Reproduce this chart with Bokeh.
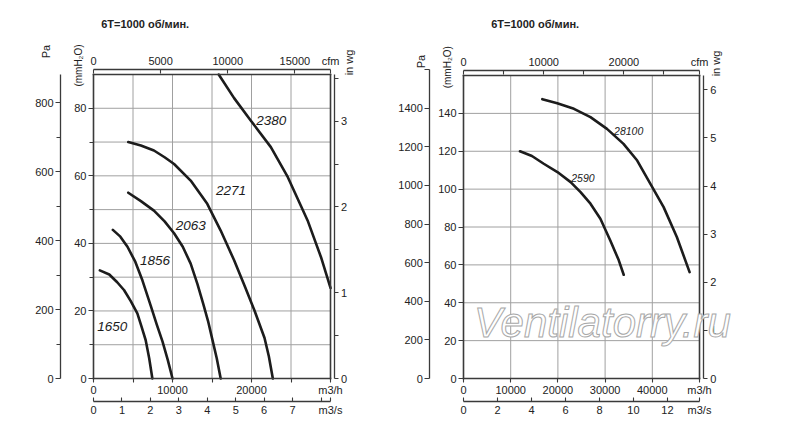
from bokeh.plotting import figure
from bokeh.models import LinearAxis, Range1d, FixedTicker, Grid, Label
from bokeh.layouts import row
from bokeh.embed import file_html
from bokeh.resources import INLINE
from bokeh.core.properties import value
import math

FONT = "Liberation Sans"
AX = "#3a3a3a"
GRID = "#a0a0a0"
CURVE = "#1c1c1c"
HEIGHT = 437
OFF = 0  # vertical page offset of the canvas

M3H_PER_CFM = 1.69901
M3H_PER_M3S = 3600.0
MM_PER_INWG = 25.4
PA_PER_MM = 9.80665

TITLE = "6T=1000 об/мин."

# ---------------- left chart data (x: m3/h, y: mmH2O) ----------------
L_XMAX = 30000
L_YMAX = 90
q1650 = [800, 2000, 3000, 3860, 4700, 5550, 6100, 6600, 7050, 7450]
p1650 = [32, 30.8, 28.5, 26.2, 23, 19.3, 15.2, 11.4, 6, 0]
q1856 = [2450, 3400, 4300, 5300, 6200, 7250, 8000, 8730, 9400, 10000]
p1856 = [44, 42, 39, 34.5, 29, 21.5, 16, 11, 5.5, 0]
q2063 = [4400, 6000, 7650, 9000, 10200, 11300, 12300, 13150, 13900, 14500, 15100, 15600, 16100]
p2063 = [55, 52.5, 49.7, 46.5, 43, 39, 34, 28, 22, 17, 11, 6, 0]
q2271 = [4400, 6000, 7650, 9000, 10200, 12300, 14400, 16100, 17800, 19200, 20400, 21650, 22200, 22700]
p2271 = [70, 69, 67.5, 65.5, 63.5, 58.6, 51.7, 43.8, 35, 27, 20, 12, 6.5, 0]
q2380 = [15850, 17800, 19900, 22450, 24600, 27100, 28800, 30000]
p2380 = [90, 83, 76.4, 68.5, 59.6, 46.8, 35.9, 26.8]
left_curves = [(q1650, p1650), (q1856, p1856), (q2063, p2063), (q2271, p2271), (q2380, p2380)]
left_names = ["1650", "1856", "2063", "2271", "2380"]
left_name_x = [2370, 7780, 12300, 17400, 22500]
left_name_y = [15.3, 35, 45.3, 55.7, 76.3]

# ---------------- right chart data ----------------
R_XMAX = 50000
R_YMAX = 160
q2590 = [11970, 14500, 17000, 19900, 22700, 24800, 26900, 29000, 31100, 32900, 33940]
p2590 = [120, 117.5, 113.4, 109, 103.7, 98.4, 92.3, 84.4, 72.9, 62.4, 54.8]
q28100 = [16700, 19860, 23400, 26900, 30400, 33900, 36800, 39600, 42400, 45200, 47900]
p28100 = [147.5, 145.3, 142.4, 138, 131.8, 123.9, 115.1, 102.8, 90.5, 74.7, 56.2]
right_curves = [(q2590, p2590), (q28100, p28100)]
right_names = ["2590", "28100"]
right_name_x = [25300, 35000]
right_name_y = [106, 130.9]

# tick sets
L_M3H_TICKS = [0, 5000, 10000, 15000, 20000, 25000, 30000]
L_M3H_LABELS = {5000: "", 15000: "", 25000: "", 30000: "m3/h"}
L_M3S_TICKS = [0, 1, 2, 3, 4, 5, 6, 7, 8]
L_M3S_LABELS = {8: ""}
L_CFM_TICKS = [0, 5000, 10000, 15000]
L_MM_TICKS = [0, 20, 40, 60, 80]
L_MM_MINOR = [10, 30, 50, 70]
L_PA_TICKS = [0, 200, 400, 600, 800]
L_PA_MINOR = [100, 300, 500, 700]
L_INWG_TICKS = [0, 1, 2, 3]
L_INWG_MINOR = [0.5, 1.5, 2.5, 3.5]
L_GRID_X = [5000, 10000, 15000, 20000, 25000]
L_GRID_Y = [10, 20, 30, 40, 50, 60, 70, 80]

R_M3H_TICKS = [0, 10000, 20000, 30000, 40000, 50000]
R_M3H_LABELS = {50000: "m3/h"}
R_M3S_TICKS = [0, 2, 4, 6, 8, 10, 12]
R_CFM_TICKS = [0, 5000, 10000, 15000, 20000, 25000]
R_CFM_LABELS = {5000: "", 15000: "", 25000: ""}
R_MM_TICKS = [0, 20, 40, 60, 80, 100, 120, 140]
R_PA_TICKS = [0, 200, 400, 600, 800, 1000, 1200, 1400, 1600]
R_PA_LABELS = {1600: ""}
R_INWG_TICKS = [0, 1, 2, 3, 4, 5, 6]
R_GRID_X = [10000, 20000, 30000, 40000]
R_GRID_Y = [20, 40, 60, 80, 100, 120, 140]


def style(ax, tick_out=4, tick_in=0, minor_out=0, standoff=2, lw=1.3):
    ax.axis_line_color = AX
    ax.axis_line_width = lw
    ax.major_tick_line_color = AX
    ax.major_tick_line_width = 1.1
    ax.minor_tick_line_color = AX
    ax.minor_tick_line_width = 1.1
    ax.major_tick_out = tick_out
    ax.major_tick_in = tick_in
    ax.minor_tick_out = minor_out
    ax.minor_tick_in = 0
    ax.major_label_standoff = standoff
    ax.major_label_text_font = FONT
    ax.major_label_text_font_size = "11px"
    ax.major_label_text_color = "#222222"
    return ax


def plain_line(**kw):
    # an axis used only for its line (frame box edge)
    return LinearAxis(ticker=FixedTicker(ticks=[]), axis_line_color=AX, axis_line_width=1.6,
                      axis_line_cap="square", major_tick_line_color=None, minor_tick_line_color=None,
                      major_label_text_color=None, **kw)


def build(cfg):
    page_left = cfg["page_left"]
    width = cfg["width"]
    xmax, ymax = cfg["xmax"], cfg["ymax"]
    x0, fw, y0, fh = cfg["x0"], cfg["fw"], cfg["y0"], cfg["fh"]
    sx = fw / xmax
    sy = fh / ymax
    xr = Range1d(-x0 / sx, (width - x0) / sx)
    yr = Range1d(-y0 / sy, (HEIGHT - y0) / sy)

    def X(page_x):
        return (page_x - page_left - x0) / sx

    def Y(page_y):
        return ((OFF + HEIGHT - page_y) - y0) / sy

    p = figure(width=width, height=HEIGHT, x_range=xr, y_range=yr,
               output_backend="svg", toolbar_location=None,
               x_axis_location=None, y_axis_location=None,
               min_border=0, min_border_left=0, min_border_right=0,
               min_border_top=0, min_border_bottom=0)
    p.center = [r for r in p.center if not isinstance(r, Grid)]
    p.outline_line_color = None
    p.background_fill_color = "white"
    p.border_fill_color = "white"
    p.extra_x_ranges = {"cfm": Range1d(xr.start / M3H_PER_CFM, xr.end / M3H_PER_CFM),
                        "ms": Range1d(xr.start / M3H_PER_M3S, xr.end / M3H_PER_M3S)}
    p.extra_y_ranges = {"pa": Range1d(yr.start * PA_PER_MM, yr.end * PA_PER_MM),
                        "inwg": Range1d(yr.start / MM_PER_INWG, yr.end / MM_PER_INWG)}

    # grid lines at the grid tick values, spanning the chart box
    gx = cfg["grid_x"]
    gy = cfg["grid_y"]
    p.segment(x0=gx, y0=[0] * len(gx), x1=gx, y1=[ymax] * len(gx),
              line_color=GRID, line_width=1)
    p.segment(x0=[0] * len(gy), y0=gy, x1=[xmax] * len(gy), y1=gy,
              line_color=GRID, line_width=1)

    # frame box top / right
    p.add_layout(plain_line(fixed_location=ymax, bounds=(0, xmax)), "above")
    p.add_layout(plain_line(fixed_location=xmax, bounds=(0, ymax)), "right")

    # m3/h (bottom edge)
    m3h = style(LinearAxis(ticker=FixedTicker(ticks=cfg["m3h_ticks"]),
                           major_label_overrides=cfg["m3h_labels"],
                           fixed_location=0, bounds=(0, xmax), axis_line_cap="square"),
                tick_out=4, standoff=1, lw=1.6)
    p.add_layout(m3h, "below")

    # m3/s
    ms_end = xmax / M3H_PER_M3S
    ms_lab = dict(cfg["m3s_labels"])
    ms_lab[ms_end] = "m3/s"
    ms = style(LinearAxis(x_range_name="ms", ticker=FixedTicker(ticks=cfg["m3s_ticks"] + [ms_end]),
                          major_label_overrides=ms_lab, fixed_location=Y(cfg["ms_y"]),
                          bounds=(0, ms_end)),
               tick_out=0, tick_in=4, standoff=3)
    p.add_layout(ms, "below")

    # cfm
    cfm_end = xmax / M3H_PER_CFM
    cfm_lab = dict(cfg["cfm_labels"])
    cfm_lab[cfm_end] = "cfm"
    cfm = style(LinearAxis(x_range_name="cfm", ticker=FixedTicker(ticks=cfg["cfm_ticks"] + [cfm_end]),
                           major_label_overrides=cfm_lab, fixed_location=Y(cfg["cfm_y"]),
                           bounds=(0, cfm_end)),
                tick_out=0, tick_in=4, standoff=3)
    p.add_layout(cfm, "above")

    # mmH2O (left edge)
    mm = style(LinearAxis(ticker=FixedTicker(ticks=cfg["mm_ticks"], minor_ticks=cfg["mm_minor"]),
                          fixed_location=0, bounds=(0, ymax), axis_line_cap="square"),
               tick_out=5, minor_out=4, standoff=2, lw=1.6)
    p.add_layout(mm, "left")

    # Pa
    pa = style(LinearAxis(y_range_name="pa", ticker=FixedTicker(ticks=cfg["pa_ticks"], minor_ticks=cfg["pa_minor"]),
                          major_label_overrides=cfg["pa_labels"], fixed_location=X(cfg["pa_x"]),
                          bounds=(0, cfg["pa_top"])),
               tick_out=5, minor_out=4, standoff=2)
    p.add_layout(pa, "left")

    # in wg
    iw = style(LinearAxis(y_range_name="inwg", ticker=FixedTicker(ticks=cfg["inwg_ticks"], minor_ticks=cfg["inwg_minor"]),
                          fixed_location=X(cfg["inwg_x"]), bounds=(0, ymax / MM_PER_INWG)),
               tick_out=4, minor_out=4, standoff=3)
    p.add_layout(iw, "right")

    # curves and their speed labels
    for q, pr in cfg["curves"]:
        p.line(q, pr, line_width=2.6, line_color=CURVE, line_cap="round", line_join="round")
    p.text(x=cfg["name_x"], y=cfg["name_y"], text=cfg["names"], text_font=value(FONT),
           text_font_style="italic", text_font_size=cfg["name_size"], text_align="center",
           text_baseline="middle", text_color="#1c1c1c")

    # free texts (page coordinates -> screen units of the full-canvas frame)
    for (px, py, text, size, fstyle, angle, align) in cfg["texts"]:
        p.add_layout(Label(x=px - page_left, y=OFF + HEIGHT - py, x_units="screen", y_units="screen",
                           text=text, text_font=FONT, text_font_size=size, text_font_style=fstyle,
                           text_align=align, text_baseline="middle", angle=angle,
                           text_color="#222222"))
    return p


left_cfg = dict(
    page_left=0, width=396, xmax=L_XMAX, ymax=L_YMAX, x0=93, fw=237, y0=HEIGHT - 378, fh=304,
    grid_x=L_GRID_X, grid_y=L_GRID_Y,
    m3h_ticks=L_M3H_TICKS, m3h_labels=L_M3H_LABELS,
    m3s_ticks=L_M3S_TICKS, m3s_labels=L_M3S_LABELS, ms_y=400.7,
    cfm_ticks=L_CFM_TICKS, cfm_labels={}, cfm_y=69,
    mm_ticks=L_MM_TICKS, mm_minor=L_MM_MINOR,
    pa_ticks=L_PA_TICKS, pa_minor=L_PA_MINOR, pa_labels={}, pa_x=60, pa_top=L_YMAX * PA_PER_MM,
    inwg_ticks=L_INWG_TICKS, inwg_minor=L_INWG_MINOR, inwg_x=333.5,
    curves=left_curves, names=left_names, name_x=left_name_x, name_y=left_name_y, name_size="13.5px",
    texts=[(100.7, 23, TITLE, "11px", "bold", 0.0, "left"),
           (45, 51, "Pa", "11px", "normal", math.pi / 2, "center"),
           (78, 65, "(mmH\u2082O)", "10px", "normal", math.pi / 2, "center"),
           (348, 62, "in wg", "11px", "normal", math.pi / 2, "center")],
)

right_cfg = dict(
    page_left=396, width=396, xmax=R_XMAX, ymax=R_YMAX, x0=67, fw=236, y0=HEIGHT - 378, fh=303,
    grid_x=R_GRID_X, grid_y=R_GRID_Y,
    m3h_ticks=R_M3H_TICKS, m3h_labels=R_M3H_LABELS,
    m3s_ticks=R_M3S_TICKS, m3s_labels={}, ms_y=400.7,
    cfm_ticks=R_CFM_TICKS, cfm_labels=R_CFM_LABELS, cfm_y=70,
    mm_ticks=R_MM_TICKS, mm_minor=[],
    pa_ticks=R_PA_TICKS, pa_minor=[], pa_labels=R_PA_LABELS, pa_x=429.3, pa_top=1600,
    inwg_ticks=R_INWG_TICKS, inwg_minor=[], inwg_x=702.7,
    curves=right_curves, names=right_names, name_x=right_name_x, name_y=right_name_y, name_size="10.5px",
    texts=[(490.7, 23, TITLE, "11px", "bold", 0.0, "left"),
           (420, 61, "Pa", "11px", "normal", math.pi / 2, "center"),
           (446.7, 66.7, "(mmH\u2082O)", "10px", "normal", math.pi / 2, "center"),
           (715, 63, "in wg", "11px", "normal", math.pi / 2, "center")],
)

left = build(left_cfg)
right = build(right_cfg)

wm_kw = dict(x=602 - 396, y=OFF + HEIGHT - 321.5, x_units="screen", y_units="screen",
             text="Ventilatorry.ru", text_font=FONT, text_font_size="42px",
             text_font_style="italic", text_align="center", text_baseline="middle",
             text_color="white")
try:
    wm = Label(text_outline_color="#a8a8a8", **wm_kw)
except Exception:
    wm_kw["text_color"] = "#dcdcdc"
    wm = Label(**wm_kw)
right.add_layout(wm)

layout = row(left, right)
open("out.html", "w").write(file_html(layout, INLINE))
